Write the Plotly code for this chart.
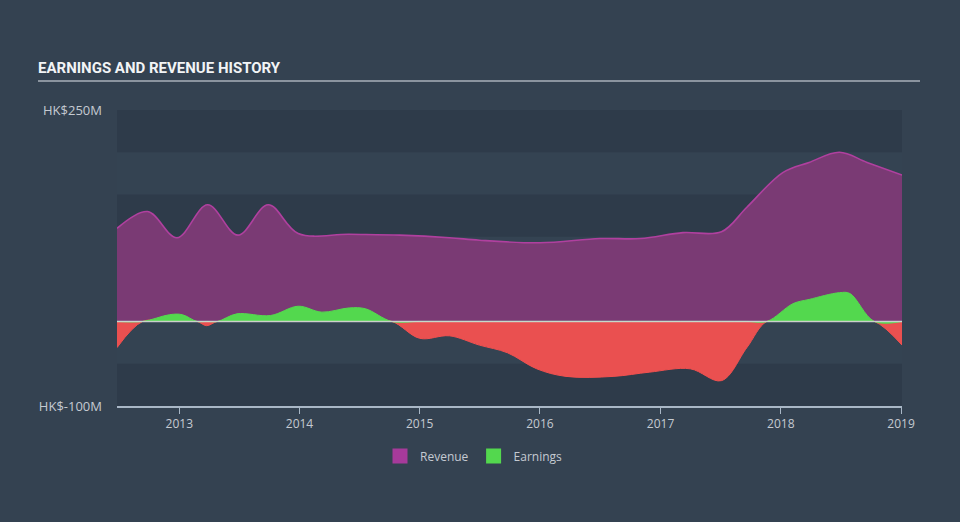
import plotly.graph_objects as go

# ---- data (HK$ millions) ----
rev_dates = ["2012-06-26", "2012-09-27", "2012-12-25", "2013-03-28", "2013-06-28",
             "2013-09-28", "2013-12-28", "2014-06-01", "2014-11-01", "2015-04-01",
             "2015-07-01", "2016-01-01", "2016-07-01", "2016-11-01", "2017-03-10",
             "2017-07-05", "2017-09-20", "2018-01-07", "2018-03-28", "2018-06-28",
             "2018-09-20", "2019-01-04"]
revenue = [110, 130, 99, 138, 102, 138, 104, 103, 102, 99, 96, 93, 98, 98, 105,
           106, 135, 176, 188, 200, 188, 173]

earn_dates = ["2012-06-26", "2012-09-12", "2012-12-03", "2013-01-10", "2013-02-24",
              "2013-03-25", "2013-04-27", "2013-06-25", "2013-10-05", "2013-12-28",
              "2014-03-10", "2014-06-01", "2014-07-20", "2014-10-08", "2015-01-01",
              "2015-04-01", "2015-07-01", "2015-09-24", "2015-12-22", "2016-03-20",
              "2016-08-10", "2016-11-28", "2017-04-01", "2017-07-05", "2017-09-20",
              "2017-11-20", "2018-02-07", "2018-03-28", "2018-06-28", "2018-07-30",
              "2018-10-12", "2019-01-04"]
earnings = [-31, 0, 8, 8, 0, -5, 0, 9, 7, 18, 11, 16, 15, 0, -20, -17, -28, -37,
            -56, -65, -65, -60, -56, -70, -31, 0, 21, 26, 34, 33, 0, -28]

year_ticks = ["2013-01-01", "2014-01-01", "2015-01-01", "2016-01-01",
              "2017-01-01", "2018-01-01", "2019-01-01"]
year_labels = ["2013", "2014", "2015", "2016", "2017", "2018", "2019"]
y_ticks = [-100, 250]
y_labels = ["HK$-100M", "HK$250M"]

earn_pos = [max(v, 0) for v in earnings]
earn_neg = [min(v, 0) for v in earnings]

PAPER = "#344251"
DARK_BAND = "#2e3b4a"
LIGHT_BAND = "#344352"
TXT = "#c5cad1"
AXIS = "#a9b7c6"

fig = go.Figure()

fig.add_trace(go.Scatter(x=rev_dates, y=revenue, mode="lines", fill="tozeroy",
                         line=dict(color="#b0409f", width=1.6, shape="spline"),
                         fillcolor="#7a3a74", showlegend=False, hoverinfo="skip"))
fig.add_trace(go.Scatter(x=earn_dates, y=earn_neg, mode="lines", fill="tozeroy",
                         line=dict(color="#f0504f", width=1, shape="spline"),
                         fillcolor="#ea5050", showlegend=False, hoverinfo="skip"))
fig.add_trace(go.Scatter(x=earn_dates, y=earn_pos, mode="lines", fill="tozeroy",
                         line=dict(color="#55d94f", width=1, shape="spline"),
                         fillcolor="#53d84e", showlegend=False, hoverinfo="skip"))

# legend entries
fig.add_trace(go.Scatter(x=[None], y=[None], mode="markers", name="Revenue",
                         marker=dict(symbol="square", size=15, color="#a63a9a")))
fig.add_trace(go.Scatter(x=[None], y=[None], mode="markers", name="Earnings",
                         marker=dict(symbol="square", size=15, color="#53d84e")))

shapes = []
for top, bot in [(250, 200), (150, 100), (50, 0), (-50, -100)]:
    shapes.append(dict(type="rect", xref="paper", yref="y", x0=0, x1=1, y0=bot, y1=top,
                       fillcolor=DARK_BAND, line=dict(width=0), layer="below"))
# zero line
shapes.append(dict(type="line", xref="paper", yref="y", x0=0, x1=1, y0=0, y1=0,
                   line=dict(color="rgba(215,220,225,0.85)", width=1.5), layer="above"))
# title underline
shapes.append(dict(type="line", xref="paper", yref="paper",
                   x0=(38 - 117) / 785, x1=(920 - 117) / 785,
                   y0=(406 - 81) / 296, y1=(406 - 81) / 296,
                   line=dict(color="#a9b1ba", width=1.5)))

fig.update_layout(
    width=960, height=522,
    margin=dict(l=117, r=58, t=110, b=116),
    paper_bgcolor=PAPER, plot_bgcolor=LIGHT_BAND,
    font=dict(family="Open Sans", color=TXT, size=12),
    title=dict(text="<b>EARNINGS AND REVENUE HISTORY</b>",
               font=dict(family="Roboto", size=15, color="#f2f4f6"),
               xref="container", yref="container", x=38 / 960, xanchor="left",
               y=1 - 68 / 522, yanchor="middle"),
    shapes=shapes,
    showlegend=True,
    legend=dict(orientation="h", x=(474 - 117) / 785, xanchor="center",
                y=(406 - 456) / 296, yanchor="middle",
                font=dict(size=12, color=TXT), bgcolor="rgba(0,0,0,0)"),
    xaxis=dict(type="date", range=["2012-06-26", "2019-01-04"],
               tickvals=year_ticks, ticktext=year_labels,
               showgrid=False, zeroline=False, showline=True,
               linecolor=AXIS, linewidth=2, ticks="outside", ticklen=6,
               tickcolor=AXIS, tickwidth=1, tickfont=dict(size=12, color=TXT)),
    yaxis=dict(range=[-100, 250], tickvals=y_ticks, ticktext=y_labels,
               showgrid=False, zeroline=False, showline=False, ticks="",
               ticklabelstandoff=14, tickfont=dict(size=13, color=TXT)),
)

fig.write_html("out.html")
